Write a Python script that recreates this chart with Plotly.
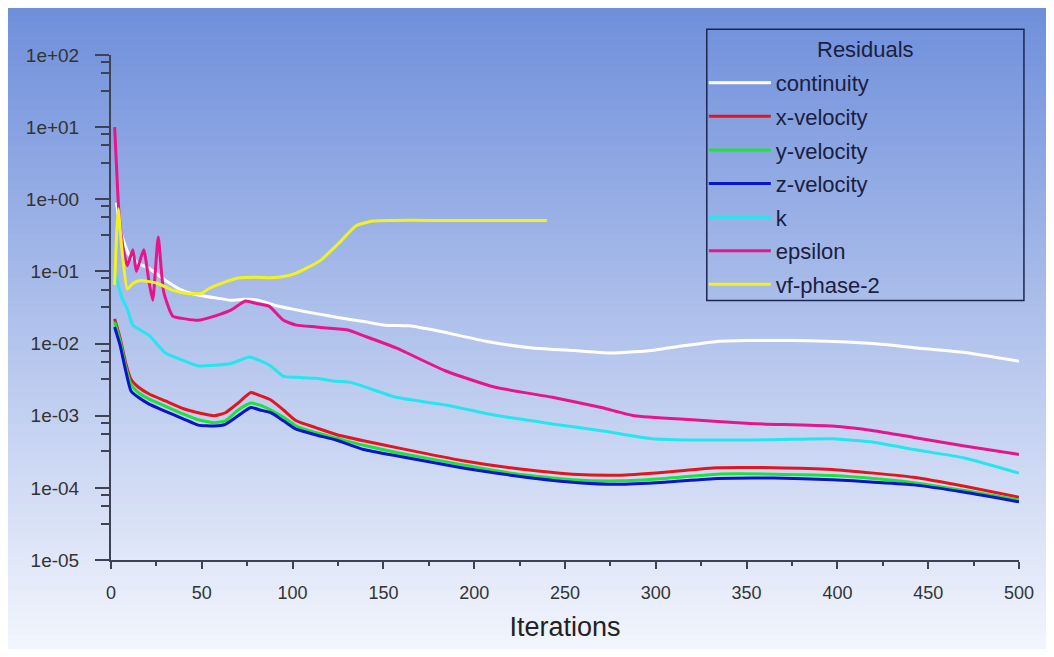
import plotly.graph_objects as go

# residual histories (iteration, value)
it_cont = [3, 4, 5, 7, 10, 15, 21, 30, 39, 48, 60, 66, 74, 81, 90, 100, 113, 125, 140, 151, 164, 181, 207, 232, 255, 277, 299, 315, 334, 351, 375, 394, 420, 444, 470, 500]
continuity = [0.9, 0.6, 0.4, 0.26, 0.17, 0.13, 0.11, 0.075, 0.055, 0.047, 0.042, 0.040, 0.041, 0.040, 0.034, 0.030, 0.026, 0.023, 0.020, 0.018, 0.0176, 0.0148, 0.0107, 0.0087, 0.0080, 0.0074, 0.0081, 0.0093, 0.0107, 0.0110, 0.0110, 0.0108, 0.0100, 0.0087, 0.0075, 0.0057]

it_vel = [2, 5, 8, 11, 15, 21, 30, 40, 48, 57, 63, 70, 77, 82, 88, 95, 102, 113, 124, 139, 160, 193, 220, 254, 280, 305, 334, 365, 397, 420, 442, 470, 500]
x_velocity = [0.022, 0.012, 0.0055, 0.0032, 0.0025, 0.0020, 0.0016, 0.00125, 0.0011, 0.0010, 0.0011, 0.0015, 0.0021, 0.0019, 0.00165, 0.0012, 0.00085, 0.00068, 0.00055, 0.00045, 0.00035, 0.00024, 0.00019, 0.000155, 0.00015, 0.000165, 0.00019, 0.00019, 0.00018, 0.00016, 0.00014, 0.000105, 0.000074]
y_velocity = [0.020, 0.011, 0.0049, 0.0027, 0.0021, 0.0017, 0.00135, 0.00105, 0.00088, 0.00080, 0.00085, 0.0012, 0.0015, 0.0014, 0.0012, 0.00095, 0.00072, 0.00058, 0.00049, 0.00039, 0.00030, 0.00021, 0.00016, 0.00013, 0.000125, 0.000135, 0.000155, 0.000155, 0.000148, 0.000135, 0.000118, 0.000092, 0.000068]
z_velocity = [0.017, 0.0095, 0.0043, 0.0022, 0.0018, 0.00145, 0.00115, 0.00090, 0.00074, 0.00072, 0.00076, 0.0010, 0.0013, 0.0012, 0.0011, 0.00085, 0.00065, 0.00054, 0.00046, 0.00034, 0.00027, 0.00019, 0.00015, 0.00012, 0.000112, 0.00012, 0.000135, 0.000137, 0.00013, 0.00012, 0.00011, 0.000087, 0.000064]

it_k = [2, 4, 6, 9, 12, 16, 21, 30, 40, 48, 57, 66, 72, 76, 82, 88, 95, 102, 113, 124, 132, 157, 185, 211, 243, 270, 298, 325, 352, 375, 397, 420, 442, 470, 500]
k = [0.1, 0.065, 0.043, 0.03, 0.018, 0.0155, 0.013, 0.0074, 0.0058, 0.0049, 0.0050, 0.0053, 0.0060, 0.0065, 0.0058, 0.0049, 0.0035, 0.0034, 0.0033, 0.0030, 0.0029, 0.0018, 0.0014, 0.00102, 0.00077, 0.00062, 0.00048, 0.00046, 0.00046, 0.00047, 0.00048, 0.00043, 0.00034, 0.00026, 0.00016]

it_eps = [2, 3, 4, 5, 7, 9, 12, 14, 18, 21, 23, 26, 29, 34, 41, 48, 57, 66, 74, 80, 87, 95, 102, 113, 124, 130, 140, 157, 184, 211, 243, 270, 288, 320, 352, 397, 420, 442, 470, 500]
epsilon = [10, 3, 0.9, 0.45, 0.19, 0.12, 0.2, 0.1, 0.2, 0.07, 0.04, 0.3, 0.052, 0.024, 0.022, 0.021, 0.024, 0.029, 0.039, 0.036, 0.033, 0.021, 0.018, 0.017, 0.016, 0.0155, 0.0126, 0.0087, 0.0042, 0.0025, 0.0018, 0.0013, 0.0010, 0.00088, 0.00078, 0.00072, 0.00062, 0.0005, 0.00038, 0.00029]

it_vf = [2, 3, 4, 6, 9, 12, 16, 25, 34, 43, 50, 54, 62, 70, 80, 88, 95, 102, 115, 125, 135, 144, 155, 175, 200, 240]
vf_phase_2 = [0.065, 0.3, 0.74, 0.2, 0.057, 0.068, 0.075, 0.069, 0.055, 0.049, 0.050, 0.058, 0.070, 0.081, 0.083, 0.082, 0.085, 0.095, 0.14, 0.24, 0.43, 0.50, 0.51, 0.51, 0.51, 0.51]

series = [
    ("continuity", it_cont, continuity, "#ffffff"),
    ("x-velocity", it_vel, x_velocity, "#e3161f"),
    ("y-velocity", it_vel, y_velocity, "#1fe03c"),
    ("z-velocity", it_vel, z_velocity, "#0a14c8"),
    ("k", it_k, k, "#25e6ee"),
    ("epsilon", it_eps, epsilon, "#e6158c"),
    ("vf-phase-2", it_vf, vf_phase_2, "#f2f222"),
]

y_tickvals = [1e-5, 1e-4, 1e-3, 1e-2, 1e-1, 1e0, 1e1, 1e2]
y_ticktext = ["1e-05", "1e-04", "1e-03", "1e-02", "1e-01", "1e+00", "1e+01", "1e+02"]

fig = go.Figure()
for i, (name, xs, ys, col) in enumerate(series):
    fig.add_trace(go.Scatter(x=xs, y=ys, name=name, mode="lines", legendgroup=str(i),
                             line=dict(color=col, width=3, shape="spline", smoothing=0.5)))

# page draws the figure 8px in from the corner; plot area spans screen x 111..1030, y 55..563
PL, PR, PT, PB = 111, 1030, 55, 563

def px(sx):
    return (sx - PL) / (PR - PL)

def py(sy):
    return (PB - sy) / (PB - PT)

# vertical gradient background (blue at top fading to near white)
top = (110, 142, 219)
bot = (243, 246, 253)
y_top, y_bot = py(0), py(660)
n = 90
shapes = []
for j in range(n):
    f = j / (n - 1)
    c = tuple(round(top[m] + (bot[m] - top[m]) * f) for m in range(3))
    ya = y_top - (y_top - y_bot) * j / n
    yb = y_top - (y_top - y_bot) * (j + 1) / n
    shapes.append(dict(type="rect", xref="paper", yref="paper", x0=px(0), x1=px(1060), y0=yb - 0.002, y1=ya,
                       fillcolor="rgb(%d,%d,%d)" % c, line=dict(width=0), layer="below"))

# legend frame
shapes.append(dict(type="rect", xref="paper", yref="paper",
                   x0=px(714), x1=px(1035), y0=py(302), y1=py(29),
                   line=dict(color="#1b2650", width=1.5), fillcolor="rgba(0,0,0,0)", layer="above"))

minor_y = [m * 10.0 ** e for e in range(-5, 2) for m in (3.2, 5.6, 8.0)]

axis_col = "#3d4352"
fig.update_layout(
    width=1038, height=641,
    margin=dict(l=PL - 8, r=1046 - PR, t=PT - 8, b=649 - PB),
    paper_bgcolor="white", plot_bgcolor="rgba(0,0,0,0)",
    font=dict(family="Arial, Liberation Sans, sans-serif", color="#2a2f3a"),
    shapes=shapes,
    annotations=[dict(text="Residuals", xref="paper", yref="paper", x=px(875), y=py(49),
                      showarrow=False, xanchor="center", yanchor="middle",
                      font=dict(size=22, color="#1a2040"))],
    showlegend=True,
    legend=dict(x=px(711), y=py(62), xanchor="left", yanchor="top",
                bgcolor="rgba(0,0,0,0)", borderwidth=0,
                font=dict(size=22, color="#1a2040"),
                itemwidth=62, traceorder="grouped", tracegroupgap=2),
    xaxis=dict(range=[0, 500], showgrid=False, zeroline=False,
               showline=True, linecolor=axis_col, linewidth=2,
               ticks="outside", ticklen=7, tickwidth=2, tickcolor=axis_col,
               tickvals=list(range(0, 501, 50)), ticklabelstandoff=8,
               minor=dict(tickvals=list(range(25, 500, 50)), ticks="outside", ticklen=4,
                          tickwidth=1.5, tickcolor=axis_col, showgrid=False),
               tickfont=dict(size=18, color="#333"),
               title=dict(text="Iterations", font=dict(size=27, color="#222"), standoff=16)),
    yaxis=dict(type="log", range=[-5, 2], showgrid=False, zeroline=False,
               showline=True, linecolor=axis_col, linewidth=2,
               ticks="outside", ticklen=14, tickwidth=2, tickcolor=axis_col,
               tickvals=y_tickvals, ticktext=y_ticktext, ticklabelstandoff=12,
               minor=dict(tickvals=minor_y, ticks="outside", ticklen=8,
                          tickwidth=1.5, tickcolor=axis_col, showgrid=False),
               tickfont=dict(size=19, color="#333")),
)

fig.write_html("out.html", config={"displayModeBar": False})
